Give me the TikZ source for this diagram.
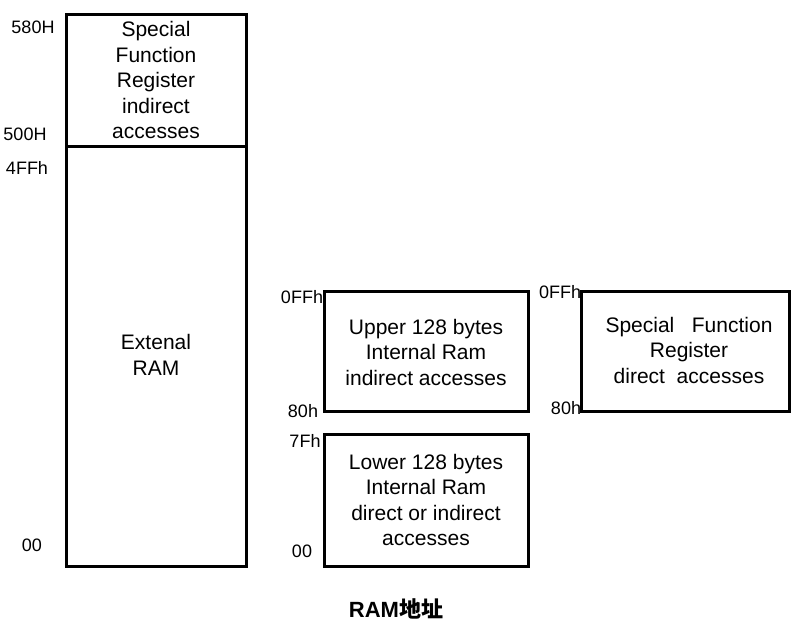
\documentclass[tikz,border=0pt]{standalone}
\usepackage{fontspec}
\setmainfont{Liberation Sans}
\newfontfamily\cjk{Noto Sans CJK SC}
\begin{document}
\begin{tikzpicture}[x=1pt,y=-1pt,
  box/.style={draw, line width=3pt, outer sep=0pt, inner sep=0pt, anchor=north west},
  lbl/.style={font=\fontsize{18}{20}\selectfont, inner sep=0pt},
  txt/.style={font=\fontsize{21}{25.5}\selectfont, align=center, inner sep=0pt},
  ttl/.style={font=\fontsize{22}{26}\selectfont\bfseries, inner sep=0pt}]
\useasboundingbox (0,0) rectangle (791,622);
% boxes
\node[box, minimum width=180pt, minimum height=552pt] (ext) at (66,14) {};
\coordinate (div) at (0,146);
\draw[line width=3pt] (ext.west |- div) -- (ext.east |- div);
\node[box, minimum width=204pt, minimum height=120pt] (upper) at (324,291) {};
\node[box, minimum width=204pt, minimum height=132pt] (lower) at (324,434) {};
\node[box, minimum width=208pt, minimum height=120pt] (sfrd) at (581,291) {};
% texts
\node[txt] (tsfr) at (156,80) {Special\\Function\\Register\\indirect\\accesses};
\node[txt] (text) at (156,355) {Extenal\\RAM};
\node[txt] (tup) at (426,352) {Upper 128 bytes\\Internal Ram\\indirect accesses};
\node[txt] (tlo) at (426,500) {Lower 128 bytes\\Internal Ram\\direct or indirect\\accesses};
\node[txt] (tsd) at (689,350) {Special\ \ \ Function\\Register\\direct\ \ accesses};
% address labels
\node[lbl] (a580) at (33,27) {580H};
\node[lbl] (a500) at (25,134) {500H};
\node[lbl] (a4ff) at (27,168) {4FFh};
\node[lbl] (a00l) at (32,545) {00};
\node[lbl] (a0ff) at (302,297) {0FFh};
\node[lbl] (a80) at (303,411) {80h};
\node[lbl] (a7f) at (305,441) {7Fh};
\node[lbl] (a00) at (302,551) {00};
\node[lbl] (b0ff) at (560,292) {0FFh};
\node[lbl] (b80) at (566,408) {80h};
% title
\node[ttl] (title) at (396,609) {RAM{\cjk 地址}};
\end{tikzpicture}
\end{document}
